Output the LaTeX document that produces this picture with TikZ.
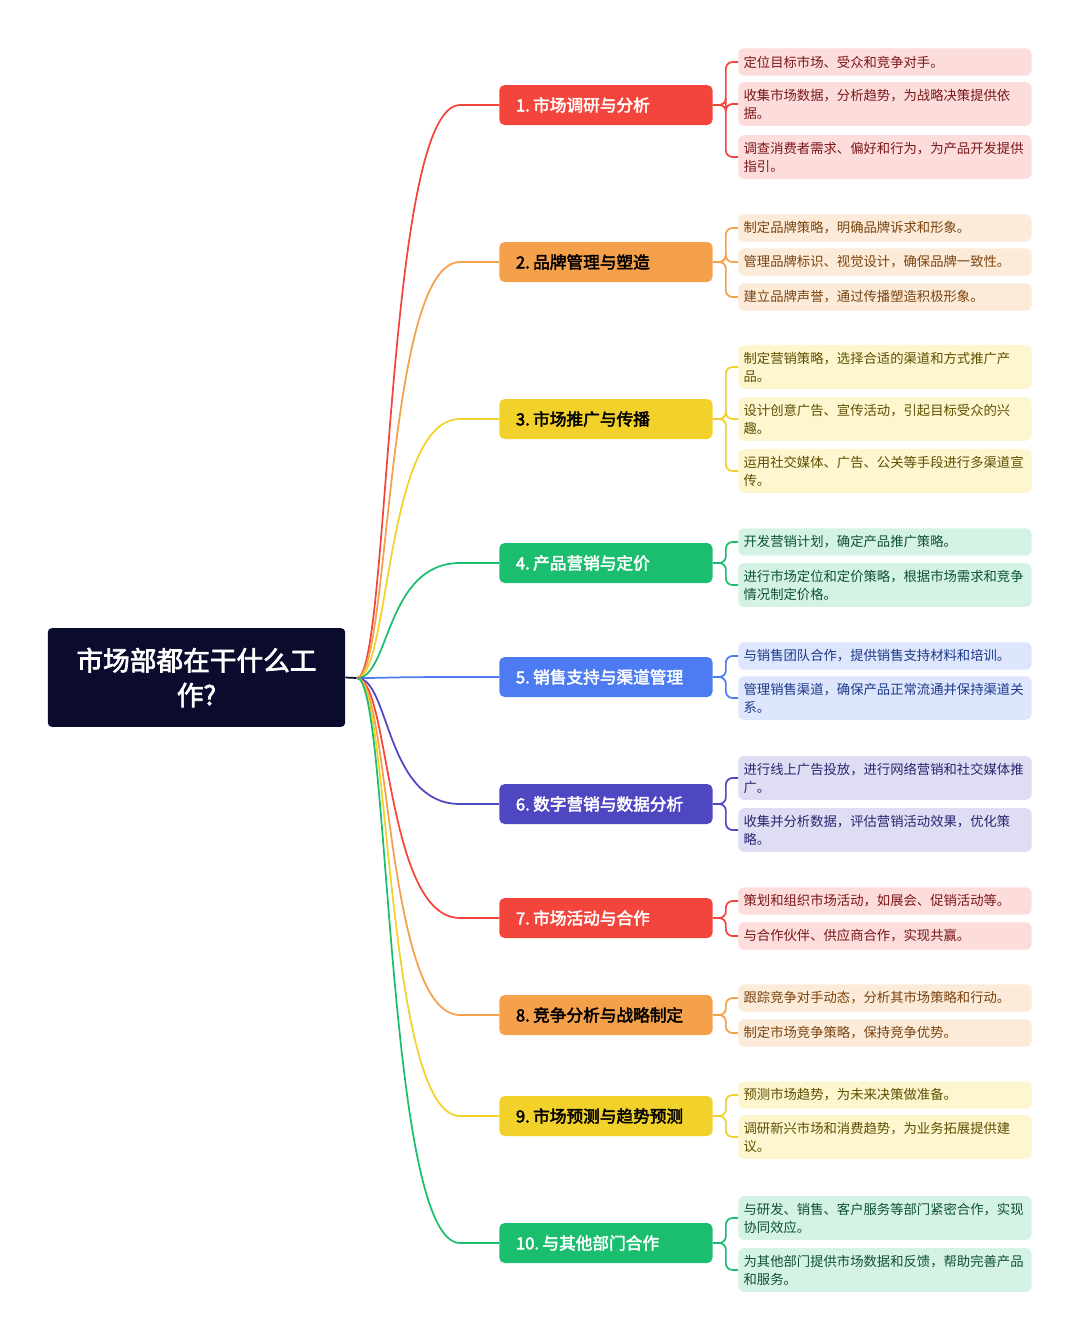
\documentclass[tikz,border=0pt]{standalone}
\usepackage{fontspec}
\setmainfont{Noto Sans CJK SC}
\newfontfamily\cjkb[FakeBold=2.5]{Noto Sans CJK SC}
\definecolor{cR}{HTML}{F4453C}\definecolor{lR}{HTML}{FDDCDC}\definecolor{dR}{HTML}{7A1818}
\definecolor{cO}{HTML}{F5A04B}\definecolor{lO}{HTML}{FDEBD9}\definecolor{dO}{HTML}{7A4410}
\definecolor{cY}{HTML}{F2D12A}\definecolor{lY}{HTML}{FDF6CF}\definecolor{dY}{HTML}{5E5000}
\definecolor{cG}{HTML}{1BBE6F}\definecolor{lG}{HTML}{D5F3E4}\definecolor{dG}{HTML}{0E5232}
\definecolor{cB}{HTML}{4D7CF2}\definecolor{lB}{HTML}{DDE6FD}\definecolor{dB}{HTML}{1E3A8A}
\definecolor{cI}{HTML}{4F47C2}\definecolor{lI}{HTML}{DEDDF4}\definecolor{dI}{HTML}{2A2570}
\definecolor{rootc}{HTML}{0B0B2E}
\newcommand\mkbranch[6]{% id, y, col, textcol, number, label
 \node[bnode,fill=#3,text=#4] (b#1) at (499,#2) {#5.\kern2.5pt #6};
 \draw[conn,#3] (rc) .. controls (390,678) and (385,#2) .. (460,#2) -- (b#1.west);}
\newcommand\lf[7]{% id, branch, y, col, light, dark, text
 \node[leaf,fill=#5,text=#6] (#1) at (738,#3) {#7};
 \draw[conn,#4,rounded corners=5] (b#2.east) -- ++(13,0) |- (#1.west);}
\begin{document}
\begin{tikzpicture}[x=0.75pt,y=-0.75pt,
 conn/.style={line width=1.3pt},
 bnode/.style={anchor=west,rounded corners=4pt,minimum width=160pt,minimum height=30pt,inner xsep=12.5pt,align=left,text width=135pt,font=\cjkb\fontsize{12.5pt}{14pt}\selectfont},
 leaf/.style={anchor=west,rounded corners=4pt,inner xsep=4pt,inner ysep=5pt,text width=212pt,align=left,minimum height=20.5pt,font=\fontsize{10pt}{13.5pt}\selectfont},
 rootn/.style={rounded corners=3pt,fill=rootc,text=white,minimum width=223pt,minimum height=74pt,align=center,font=\cjkb\fontsize{20pt}{26pt}\selectfont}]
\useasboundingbox (0,0) rectangle (1080,1340);
\node[rootn] (root) at (196.5,677.5) {市场部都在干什么工\\作?};
\coordinate (rc) at (357,678);
\draw[conn,rootc] (root.east) -- (rc);
\mkbranch{1}{105}{cR}{white}{1}{市场调研与分析}
\mkbranch{2}{262}{cO}{black}{2}{品牌管理与塑造}
\mkbranch{3}{419}{cY}{black}{3}{市场推广与传播}
\mkbranch{4}{563}{cG}{white}{4}{产品营销与定价}
\mkbranch{5}{677}{cB}{white}{5}{销售支持与渠道管理}
\mkbranch{6}{804}{cI}{white}{6}{数字营销与数据分析}
\mkbranch{7}{918}{cR}{white}{7}{市场活动与合作}
\mkbranch{8}{1015}{cO}{black}{8}{竞争分析与战略制定}
\mkbranch{9}{1116}{cY}{black}{9}{市场预测与趋势预测}
\mkbranch{10}{1243}{cG}{white}{10}{与其他部门合作}
\lf{l1a}{1}{62}{cR}{lR}{dR}{定位目标市场、受众和竞争对手。}
\lf{l1b}{1}{104}{cR}{lR}{dR}{收集市场数据，分析趋势，为战略决策提供依\\据。}
\lf{l1c}{1}{157}{cR}{lR}{dR}{调查消费者需求、偏好和行为，为产品开发提供\\指引。}
\lf{l2a}{2}{228}{cO}{lO}{dO}{制定品牌策略，明确品牌诉求和形象。}
\lf{l2b}{2}{262}{cO}{lO}{dO}{管理品牌标识、视觉设计，确保品牌一致性。}
\lf{l2c}{2}{297}{cO}{lO}{dO}{建立品牌声誉，通过传播塑造积极形象。}
\lf{l3a}{3}{367}{cY}{lY}{dY}{制定营销策略，选择合适的渠道和方式推广产\\品。}
\lf{l3b}{3}{419}{cY}{lY}{dY}{设计创意广告、宣传活动，引起目标受众的兴\\趣。}
\lf{l3c}{3}{471}{cY}{lY}{dY}{运用社交媒体、广告、公关等手段进行多渠道宣\\传。}
\lf{l4a}{4}{542}{cG}{lG}{dG}{开发营销计划，确定产品推广策略。}
\lf{l4b}{4}{585}{cG}{lG}{dG}{进行市场定位和定价策略，根据市场需求和竞争\\情况制定价格。}
\lf{l5a}{5}{656}{cB}{lB}{dB}{与销售团队合作，提供销售支持材料和培训。}
\lf{l5b}{5}{698}{cB}{lB}{dB}{管理销售渠道，确保产品正常流通并保持渠道关\\系。}
\lf{l6a}{6}{778}{cI}{lI}{dI}{进行线上广告投放，进行网络营销和社交媒体推\\广。}
\lf{l6b}{6}{830}{cI}{lI}{dI}{收集并分析数据，评估营销活动效果，优化策\\略。}
\lf{l7a}{7}{901}{cR}{lR}{dR}{策划和组织市场活动，如展会、促销活动等。}
\lf{l7b}{7}{936}{cR}{lR}{dR}{与合作伙伴、供应商合作，实现共赢。}
\lf{l8a}{8}{998}{cO}{lO}{dO}{跟踪竞争对手动态，分析其市场策略和行动。}
\lf{l8b}{8}{1033}{cO}{lO}{dO}{制定市场竞争策略，保持竞争优势。}
\lf{l9a}{9}{1095}{cY}{lY}{dY}{预测市场趋势，为未来决策做准备。}
\lf{l9b}{9}{1137}{cY}{lY}{dY}{调研新兴市场和消费趋势，为业务拓展提供建\\议。}
\lf{l10a}{10}{1218}{cG}{lG}{dG}{与研发、销售、客户服务等部门紧密合作，实现\\协同效应。}
\lf{l10b}{10}{1270}{cG}{lG}{dG}{为其他部门提供市场数据和反馈，帮助完善产品\\和服务。}
\end{tikzpicture}
\end{document}
